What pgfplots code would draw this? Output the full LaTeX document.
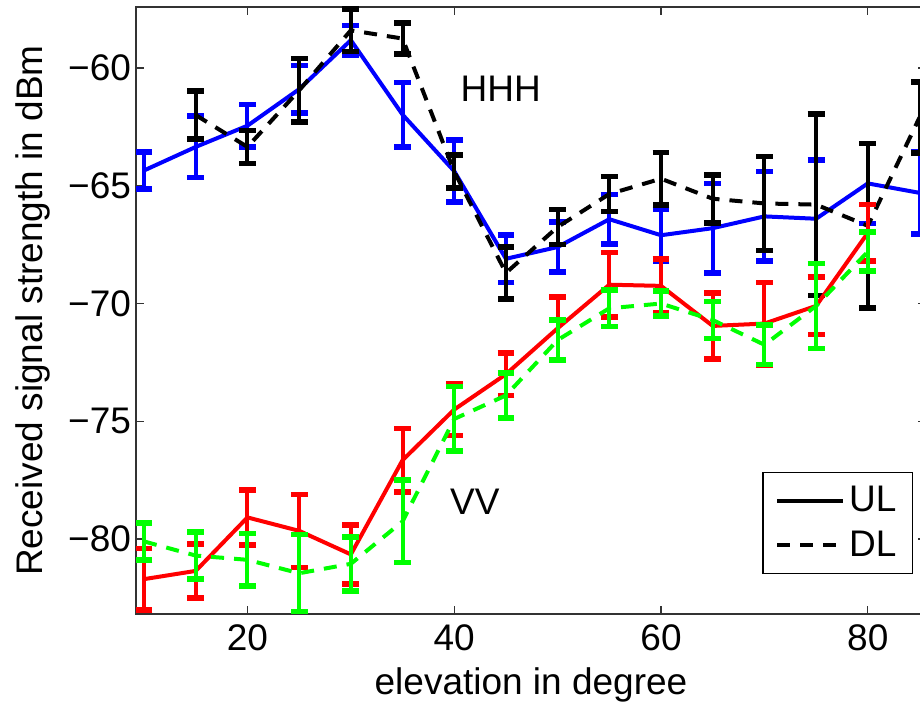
\documentclass[border=0pt]{standalone}
\usepackage{fontspec}
\setmainfont{Liberation Sans}
\usepackage{pgfplots}
\pgfplotsset{compat=1.18}
\usepackage{pgfplotstable}

% UL HH (blue)
\pgfplotstableread{
x y e
10 -64.35 0.78
15 -63.35 1.30
20 -62.45 0.90
25 -60.90 1.00
30 -58.82 0.62
35 -61.98 1.37
40 -64.38 1.32
45 -68.10 1.00
50 -67.60 1.05
55 -66.42 1.05
60 -67.10 1.10
65 -66.80 1.90
70 -66.30 1.90
75 -66.40 2.50
80 -64.90 1.70
85 -65.30 1.75
}\tblue
% DL HH (black)
\pgfplotstableread{
x y e
15 -62.00 1.02
20 -63.35 0.70
25 -60.95 1.35
30 -58.40 0.90
35 -58.75 0.65
40 -64.40 0.70
45 -68.70 1.10
50 -66.75 0.75
55 -65.35 0.75
60 -64.70 1.12
65 -65.55 1.02
70 -65.75 2.00
75 -65.80 3.85
80 -66.70 3.50
85 -62.10 1.50
}\tblack
% UL VV (red)
\pgfplotstableread{
x y e
10 -81.70 1.30
15 -81.35 1.15
20 -79.08 1.17
25 -79.65 1.55
30 -80.65 1.25
35 -76.65 1.35
40 -74.50 1.10
45 -73.00 0.90
50 -71.05 1.33
55 -69.20 1.37
60 -69.25 1.15
65 -70.95 1.40
70 -70.85 1.75
75 -70.10 1.22
80 -67.00 1.20
}\tred
% DL VV (green)
\pgfplotstableread{
x y e
10 -80.10 0.78
15 -80.70 1.00
20 -80.88 1.12
25 -81.45 1.65
30 -81.05 1.15
35 -79.25 1.75
40 -74.90 1.37
45 -73.90 0.95
50 -71.55 0.85
55 -70.20 0.78
60 -70.00 0.52
65 -70.70 0.78
70 -71.75 0.83
75 -70.10 1.80
80 -67.80 0.83
}\tgreen

\definecolor{mblue}{rgb}{0,0,1}
\definecolor{mred}{rgb}{1,0,0}
\definecolor{mgreen}{rgb}{0,1,0}

\pgfplotsset{
  eb/.style={error bars/.cd, y dir=both, y explicit,
    error bar style={line width=2pt, solid},
    error mark options={rotate=90, mark size=4.2pt, line width=2.8pt, solid}},
}
\newcommand{\fs}{\fontsize{18.5}{22}\selectfont}

\begin{document}
\begin{tikzpicture}
\useasboundingbox (0,0) rectangle (460pt,353pt);
\clip (0,0) rectangle (460pt,353pt);
\begin{axis}[
  at={(68pt,46pt)}, anchor=south west, scale only axis,
  width=395pt, height=303.5pt,
  xmin=9.22, xmax=85.63, ymin=-83.18, ymax=-57.41,
  axis line style={line width=0.6pt, black!80},
  tick align=inside, major tick length=4pt,
  tick style={line width=0.6pt, black!80},
  xtick={20,40,60,80}, xticklabels={20,40,60,80},
  ytick={-80,-75,-70,-65,-60}, yticklabels={−80,−75,−70,−65,−60},
  tick label style={font=\fs},
  xticklabel style={yshift=-2pt},
  yticklabel style={xshift=1pt},
  xlabel={elevation in degree},
  ylabel={Received signal strength in dBm},
  every axis x label/.style={at={(axis description cs:0.5,-0.117)}, anchor=center, font=\fs},
  every axis y label/.style={at={(axis description cs:-0.1305,0.5)}, rotate=90, anchor=center, font=\fs},
  legend style={font=\fs, at={(rel axis cs:0.9835,0.0659)}, anchor=south east,
    draw=black, line width=0.6pt, inner xsep=6pt, inner ysep=5pt, row sep=4pt},
  legend cell align=left,
  legend image code/.code={\draw[#1, line width=2pt] (0pt,0pt) -- (33pt,0pt);},
]
\addplot[forget plot, mblue, line width=2pt, eb] table[x=x, y=y, y error=e] {\tblue};
\addplot[forget plot, black, line width=2pt, dash pattern=on 6.5pt off 5pt, eb] table[x=x, y=y, y error=e] {\tblack};
\addplot[forget plot, mred, line width=2pt, eb] table[x=x, y=y, y error=e] {\tred};
\addplot[forget plot, mgreen, line width=2pt, dash pattern=on 6.5pt off 5pt, eb] table[x=x, y=y, y error=e] {\tgreen};
\addlegendimage{black, solid}
\addlegendentry{UL}
\addlegendimage{black, dash pattern=on 6.5pt off 5pt}
\addlegendentry{DL}
\node[font=\fs] at (axis cs:44.5,-60.9) {HHH};
\node[font=\fs] at (axis cs:42.0,-78.4) {VV};
\end{axis}
\end{tikzpicture}
\end{document}
